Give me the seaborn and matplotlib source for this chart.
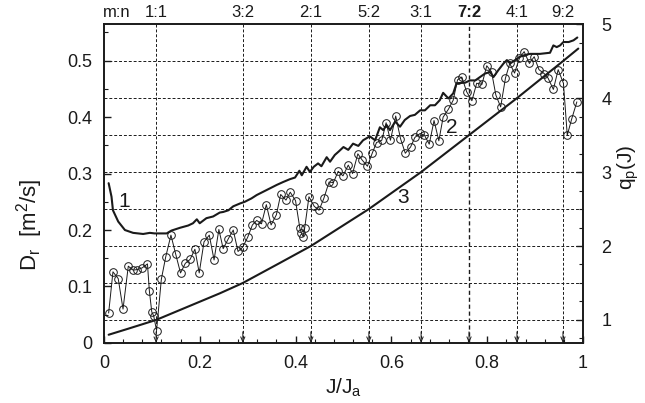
import matplotlib
matplotlib.use("Agg")
import matplotlib.pyplot as plt
import numpy as np
import pandas as pd
import seaborn as sns
from matplotlib.ticker import MultipleLocator

# Curve 2: measured radial diffusion coefficient D_r (m^2/s) vs J/J_a
j_meas = [0.010, 0.019, 0.030, 0.040, 0.051, 0.061, 0.070, 0.080, 0.091, 0.095,
          0.100, 0.104, 0.110, 0.120, 0.129, 0.140, 0.150, 0.160, 0.170, 0.180,
          0.190, 0.199, 0.209, 0.220, 0.230, 0.240, 0.249, 0.260, 0.270, 0.280,
          0.290, 0.300, 0.310, 0.319, 0.329, 0.339, 0.349, 0.360, 0.369, 0.380,
          0.389, 0.400, 0.409, 0.412, 0.416, 0.419, 0.428, 0.439, 0.449, 0.459,
          0.470, 0.479, 0.489, 0.499, 0.510, 0.519, 0.530, 0.539, 0.550, 0.560,
          0.569, 0.580, 0.589, 0.598, 0.609, 0.619, 0.629, 0.640, 0.649, 0.660,
          0.669, 0.679, 0.689, 0.699, 0.708, 0.719, 0.729, 0.738, 0.747, 0.757,
          0.768, 0.778, 0.789, 0.799, 0.809, 0.818, 0.828, 0.838, 0.847, 0.857,
          0.867, 0.877, 0.888, 0.898, 0.908, 0.919, 0.927, 0.938, 0.948, 0.959,
          0.967, 0.976, 0.987]
d_meas = [0.053, 0.126, 0.114, 0.060, 0.136, 0.129, 0.130, 0.133, 0.140, 0.092,
          0.055, 0.048, 0.022, 0.113, 0.152, 0.191, 0.157, 0.124, 0.141, 0.148,
          0.166, 0.124, 0.179, 0.191, 0.147, 0.201, 0.167, 0.185, 0.200, 0.162,
          0.170, 0.187, 0.209, 0.217, 0.211, 0.245, 0.209, 0.227, 0.263, 0.253,
          0.267, 0.252, 0.203, 0.195, 0.188, 0.203, 0.259, 0.242, 0.235, 0.256,
          0.285, 0.284, 0.304, 0.296, 0.315, 0.300, 0.335, 0.324, 0.313, 0.336,
          0.355, 0.359, 0.390, 0.359, 0.402, 0.362, 0.336, 0.347, 0.364, 0.371,
          0.368, 0.352, 0.394, 0.358, 0.400, 0.414, 0.430, 0.466, 0.471, 0.445,
          0.429, 0.460, 0.458, 0.491, 0.480, 0.439, 0.418, 0.469, 0.495, 0.478,
          0.504, 0.516, 0.495, 0.507, 0.484, 0.477, 0.469, 0.449, 0.484, 0.460,
          0.368, 0.396, 0.427]

# Curve 1: model D_r (m^2/s)
j_model = [0.010, 0.016, 0.019, 0.030, 0.044, 0.061, 0.082, 0.096, 0.106, 0.131,
           0.141, 0.159, 0.176, 0.186, 0.194, 0.200, 0.214, 0.228, 0.242, 0.249,
           0.260, 0.270, 0.284, 0.294, 0.308, 0.319, 0.333, 0.347, 0.361, 0.374,
           0.388, 0.399, 0.408, 0.413, 0.423, 0.430, 0.438, 0.447, 0.454, 0.465,
           0.472, 0.482, 0.490, 0.500, 0.510, 0.520, 0.531, 0.541, 0.555, 0.566,
           0.576, 0.583, 0.590, 0.597, 0.608, 0.618, 0.628, 0.639, 0.649, 0.660,
           0.670, 0.681, 0.691, 0.701, 0.708, 0.719, 0.729, 0.736, 0.754, 0.764,
           0.775, 0.785, 0.795, 0.806, 0.813, 0.823, 0.834, 0.841, 0.848, 0.858,
           0.868, 0.879, 0.889, 0.910, 0.931, 0.938, 0.945, 0.952, 0.959, 0.970,
           0.980, 0.988]
d_model = [0.283, 0.259, 0.235, 0.215, 0.200, 0.195, 0.193, 0.195, 0.194, 0.194,
           0.199, 0.204, 0.208, 0.212, 0.219, 0.212, 0.221, 0.224, 0.231, 0.232,
           0.235, 0.242, 0.247, 0.250, 0.256, 0.262, 0.268, 0.274, 0.280, 0.285,
           0.290, 0.293, 0.305, 0.297, 0.312, 0.303, 0.312, 0.318, 0.313, 0.329,
           0.321, 0.333, 0.339, 0.347, 0.342, 0.353, 0.349, 0.359, 0.366, 0.359,
           0.382, 0.377, 0.386, 0.377, 0.392, 0.383, 0.395, 0.402, 0.404, 0.412,
           0.412, 0.421, 0.421, 0.430, 0.443, 0.433, 0.442, 0.460, 0.461, 0.465,
           0.465, 0.471, 0.477, 0.480, 0.471, 0.483, 0.495, 0.501, 0.495, 0.501,
           0.507, 0.510, 0.512, 0.512, 0.514, 0.527, 0.524, 0.527, 0.533, 0.533,
           0.536, 0.541]

# Curve 3: safety factor profile q_p(J)
j_q = [0.010, 0.050, 0.109, 0.242, 0.290, 0.367, 0.432, 0.553, 0.662, 0.762,
       0.862, 0.958, 0.990]
q_vals = [0.80, 0.88, 1.00, 1.36, 1.50, 1.77, 2.00, 2.50, 3.00, 3.50,
          4.00, 4.50, 4.67]

# Rational surfaces m:n
res_labels = ["1:1", "3:2", "2:1", "5:2", "3:1", "7:2", "4:1", "9:2"]
res_pos = [0.109, 0.290, 0.432, 0.553, 0.662, 0.762, 0.862, 0.958]

sns.set_style("ticks")
plt.rcParams["font.family"] = ["Liberation Sans", "DejaVu Sans"]
plt.rcParams["mathtext.fontset"] = "custom"
plt.rcParams["mathtext.rm"] = "Liberation Sans"
plt.rcParams["mathtext.it"] = "Liberation Sans"
plt.rcParams["axes.linewidth"] = 1.2
ink = "#1a1a1a"

fig = plt.figure(figsize=(6.45, 4.03), dpi=100)
ax = fig.add_axes([0.161, 0.149, 0.743, 0.791])
ax2 = ax.twinx()

df_meas = pd.DataFrame({"J": j_meas, "D": d_meas})
df_model = pd.DataFrame({"J": j_model, "D": d_model})
df_q = pd.DataFrame({"J": j_q, "q": q_vals})

sns.lineplot(data=df_model, x="J", y="D", ax=ax, color=ink, lw=1.5,
             estimator=None, sort=False)
sns.lineplot(data=df_meas, x="J", y="D", ax=ax, color=ink, lw=0.7,
             marker="o", markersize=5.5, markerfacecolor="none",
             markeredgecolor=ink, markeredgewidth=0.7,
             estimator=None, sort=False)
sns.lineplot(data=df_q, x="J", y="q", ax=ax2, color=ink, lw=1.5,
             estimator=None, sort=False)

# axis ranges
ax.set_xlim(0, 1)
ax.set_ylim(0, 0.5646)
ax2.set_ylim(0.689, 5.0)

# dashed grid: q levels and resonance positions
for qv in np.arange(1.0, 4.51, 0.5):
    ax2.axhline(qv, color=ink, lw=0.7, ls=(0, (3, 2)), zorder=0)
for xv, lab in zip(res_pos, res_labels):
    bold = lab == "7:2"
    ax.axvline(xv, color=ink, lw=1.0 if bold else 0.7, ls=(0, (3, 2)), zorder=0)
    ax.annotate("", xy=(xv, 0.0), xycoords=("data", "axes fraction"),
                xytext=(xv, 0.035), textcoords=("data", "axes fraction"),
                arrowprops=dict(arrowstyle="->,head_length=0.35,head_width=0.15",
                                color=ink, lw=0.7, shrinkA=0, shrinkB=0))
    ax.text(xv, 1.012, lab, transform=ax.get_xaxis_transform(), ha="center",
            va="bottom", fontsize=12, color=ink,
            fontweight="bold" if bold else "normal")
ax.text(0.027, 1.012, "m:n", transform=ax.get_xaxis_transform(), ha="center",
        va="bottom", fontsize=12, color=ink)

# ticks
ax.xaxis.set_major_locator(MultipleLocator(0.2))
ax.xaxis.set_minor_locator(MultipleLocator(0.04))
ax.yaxis.set_major_locator(MultipleLocator(0.1))
ax.yaxis.set_minor_locator(MultipleLocator(0.05))
ax2.yaxis.set_major_locator(MultipleLocator(1))
ax2.yaxis.set_minor_locator(MultipleLocator(0.25))
ax.set_xticks([0, 0.2, 0.4, 0.6, 0.8, 1.0], ["0", "0.2", "0.4", "0.6", "0.8", "1"])
ax.set_yticks([0, 0.1, 0.2, 0.3, 0.4, 0.5], ["0", "0.1", "0.2", "0.3", "0.4", "0.5"])
ax.tick_params(axis="both", which="both", direction="in", labelsize=13,
               colors=ink, top=False, right=False)
ax.tick_params(which="major", length=5, width=1)
ax.tick_params(which="minor", length=3, width=0.8)
ax2.tick_params(axis="y", which="both", direction="in", labelsize=13, colors=ink)
ax2.tick_params(which="major", length=5, width=1)
ax2.tick_params(which="minor", length=3, width=0.8)
ax.tick_params(axis="x", pad=9)
ax.tick_params(axis="y", pad=8)
ax2.tick_params(axis="y", pad=13)

ax.set_xlabel("J/J$_\\mathrm{a}$", fontsize=15, color=ink, labelpad=3)
ax.set_ylabel("D$_\\mathrm{r}$  [m$^2$/s]", fontsize=16, color=ink)
ax.yaxis.set_label_coords(-0.122, 0.37)
ax2.set_ylabel("q$_\\mathrm{p}$(J)", fontsize=15, color=ink)
ax2.yaxis.set_label_coords(1.068, 0.552)

# curve labels
ax.text(0.042, 0.25, "1", fontsize=15, color=ink, ha="center", va="center")
ax.text(0.727, 0.382, "2", fontsize=15, color=ink, ha="center", va="center")
ax.text(0.625, 0.258, "3", fontsize=15, color=ink, ha="center", va="center")

for a in (ax, ax2):
    for s in a.spines.values():
        s.set_color(ink)
        s.set_linewidth(1.2)

fig.savefig("out.png", dpi=100)
